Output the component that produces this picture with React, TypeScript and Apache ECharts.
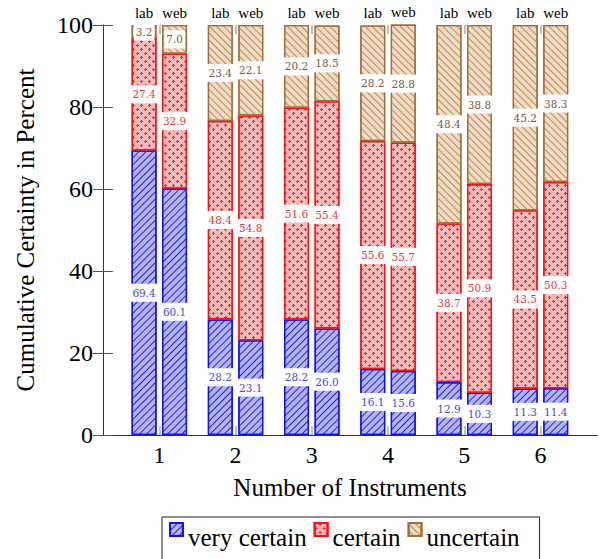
import React, { useEffect, useRef } from 'react';
import * as echarts from 'echarts';

const categories = ['1', '2', '3', '4', '5', '6'];
const groups = ['lab', 'web'];
const levelNames = ['very certain', 'certain', 'uncertain'];

const labVeryCertain = [69.4, 28.2, 28.2, 16.1, 12.9, 11.3];
const labCertain = [27.4, 48.4, 51.6, 55.6, 38.7, 43.5];
const labUncertain = [3.2, 23.4, 20.2, 28.2, 48.4, 45.2];

const webVeryCertain = [60.1, 23.1, 26.0, 15.6, 10.3, 11.4];
const webCertain = [32.9, 54.8, 55.4, 55.7, 50.9, 50.3];
const webUncertain = [7.0, 22.1, 18.5, 28.8, 38.8, 38.3];

const yMin = 0;
const yMax = 100;
const yInterval = 20;

const groupData: Record<string, number[][]> = {
  lab: [labVeryCertain, labCertain, labUncertain],
  web: [webVeryCertain, webCertain, webUncertain],
};

const SERIF = '"Liberation Serif", "DejaVu Serif", serif';

const levelStyles = [
  {
    fill: '#b4b4f8',
    border: '#1010ff',
    text: '#4848e0',
    decal: {
      symbol: 'rect',
      symbolSize: 1,
      dashArrayX: [1, 0],
      dashArrayY: [1, 4],
      rotation: -Math.PI / 4,
      color: '#2020f0',
    },
  },
  {
    fill: '#ffb8b8',
    border: '#ff1010',
    text: '#e83838',
    decal: {
      symbol: 'path://M1,0H2V1H3V2H2V3H1V2H0V1H1Z',
      symbolSize: 1,
      dashArrayX: [[3, 5], [0, 4, 3, 1]],
      dashArrayY: [3, 1],
      rotation: 0,
      color: '#ff2020',
    },
  },
  {
    fill: '#efdcc8',
    border: '#a0703c',
    text: '#7a5a3a',
    decal: {
      symbol: 'rect',
      symbolSize: 1,
      dashArrayX: [1, 0],
      dashArrayY: [1, 4],
      rotation: Math.PI / 4,
      color: '#c08848',
    },
  },
];

export default function App() {
  const ref = useRef<HTMLDivElement>(null);

  useEffect(() => {
    if (!ref.current) return;
    const chart = echarts.init(ref.current, undefined, { renderer: 'svg' });

    const series: any[] = [];
    groups.forEach((g) => {
      groupData[g].forEach((values, li) => {
        const st = levelStyles[li];
        series.push({
          type: 'bar',
          name: levelNames[li],
          stack: g,
          stackStrategy: 'all',
          xAxisIndex: 2,
          yAxisIndex: 2,
          data: values,
          barWidth: 25,
          barGap: '22%',
          itemStyle: {
            color: st.fill,
            borderColor: st.border,
            borderWidth: 1.3,
            decal: st.decal,
          },
          label: {
            show: true,
            position: 'inside',
            formatter: (p: any) => Number(p.value).toFixed(1),
            color: st.text,
            fontFamily: '"DejaVu Serif", serif',
            fontSize: 10.5,
            backgroundColor: '#ffffff',
            padding: [4, 2, 3, 2],
          },
          emphasis: { disabled: true },
        });
      });
      series.push({
        type: 'bar',
        name: g + '-label',
        stack: g,
        stackStrategy: 'all',
        xAxisIndex: 2,
        yAxisIndex: 2,
        clip: false,
        data: categories.map(() => 0),
        barWidth: 25,
        barGap: '22%',
        itemStyle: { color: 'transparent', borderWidth: 0 },
        label: {
          show: true,
          position: 'top',
          distance: 5,
          formatter: g,
          color: '#000',
          fontFamily: SERIF,
          fontSize: 15,
        },
        silent: true,
        emphasis: { disabled: true },
      });
    });

    const option: any = {
      animation: false,
      backgroundColor: '#ffffff',
      grid: [
        { left: 103, right: 10, top: 25, bottom: 124 },
        { left: 121.2, right: 28.4, top: 25, bottom: 124 },
      ],
      legend: {
        data: levelNames.map((n) => ({
          name: n,
          icon: 'path://M0,0H12V12H0Z M0,26',
        })),
        left: 162,
        top: 517,
        orient: 'horizontal',
        itemWidth: 13,
        itemHeight: 28,
        itemGap: 7,
        borderColor: '#222',
        borderWidth: 1,
        padding: [5, 20, 12, 7],
        textStyle: {
          fontFamily: SERIF,
          fontSize: 25,
          color: '#000',
        },
        selectedMode: false,
      },
      xAxis: [
        {
          type: 'value',
          gridIndex: 0,
          position: 'bottom',
          min: 0,
          max: 1,
          axisLine: { show: true, lineStyle: { color: '#333', width: 1 } },
          axisTick: { show: false },
          axisLabel: { show: false },
          splitLine: { show: false },
          name: 'Number of Instruments',
          nameLocation: 'middle',
          nameGap: 40,
          nameTextStyle: { fontFamily: SERIF, fontSize: 25, color: '#000' },
        },
        {
          type: 'value',
          gridIndex: 0,
          position: 'top',
          min: 0,
          max: 1,
          axisLine: { show: true, lineStyle: { color: '#333', width: 1 } },
          axisTick: { show: false },
          axisLabel: { show: false },
          splitLine: { show: false },
        },
        {
          type: 'category',
          gridIndex: 1,
          position: 'bottom',
          data: categories,
          axisLine: { show: false },
          axisTick: {
            show: true,
            alignWithLabel: true,
            inside: true,
            length: 9,
            lineStyle: { color: '#aaa', width: 1.5 },
          },
          axisLabel: {
            fontFamily: SERIF,
            fontSize: 24,
            color: '#000',
            margin: 8,
          },
          splitLine: { show: false },
        },
        {
          type: 'category',
          gridIndex: 1,
          position: 'top',
          data: categories,
          axisLine: { show: false },
          axisTick: {
            show: true,
            alignWithLabel: true,
            inside: true,
            length: 9,
            lineStyle: { color: '#aaa', width: 1.5 },
          },
          axisLabel: { show: false },
          splitLine: { show: false },
        },
      ],
      yAxis: [
        {
          type: 'value',
          gridIndex: 0,
          position: 'left',
          min: yMin,
          max: yMax,
          interval: yInterval,
          axisLine: { show: true, lineStyle: { color: '#333', width: 1 } },
          axisTick: { show: true, inside: true, length: 10, lineStyle: { color: '#555' } },
          axisLabel: { fontFamily: SERIF, fontSize: 24, color: '#000', margin: 10 },
          splitLine: { show: false },
          name: 'Cumulative Certainty in Percent',
          nameLocation: 'middle',
          nameGap: 65,
          nameTextStyle: { fontFamily: SERIF, fontSize: 25, color: '#000' },
        },
        {
          type: 'value',
          gridIndex: 0,
          position: 'right',
          min: yMin,
          max: yMax,
          interval: yInterval,
          axisLine: { show: true, lineStyle: { color: '#333', width: 1 } },
          axisTick: { show: true, inside: true, length: 10, lineStyle: { color: '#555' } },
          axisLabel: { show: false },
          splitLine: { show: false },
        },
        {
          type: 'value',
          gridIndex: 1,
          min: yMin,
          max: yMax,
          show: false,
        },
      ],
      series,
    };

    chart.setOption(option);
    return () => chart.dispose();
  }, []);

  return (
    <div
      ref={ref}
      style={{ position: 'fixed', left: 0, top: 0, width: 607, height: 559, background: '#fff' }}
    />
  );
}
